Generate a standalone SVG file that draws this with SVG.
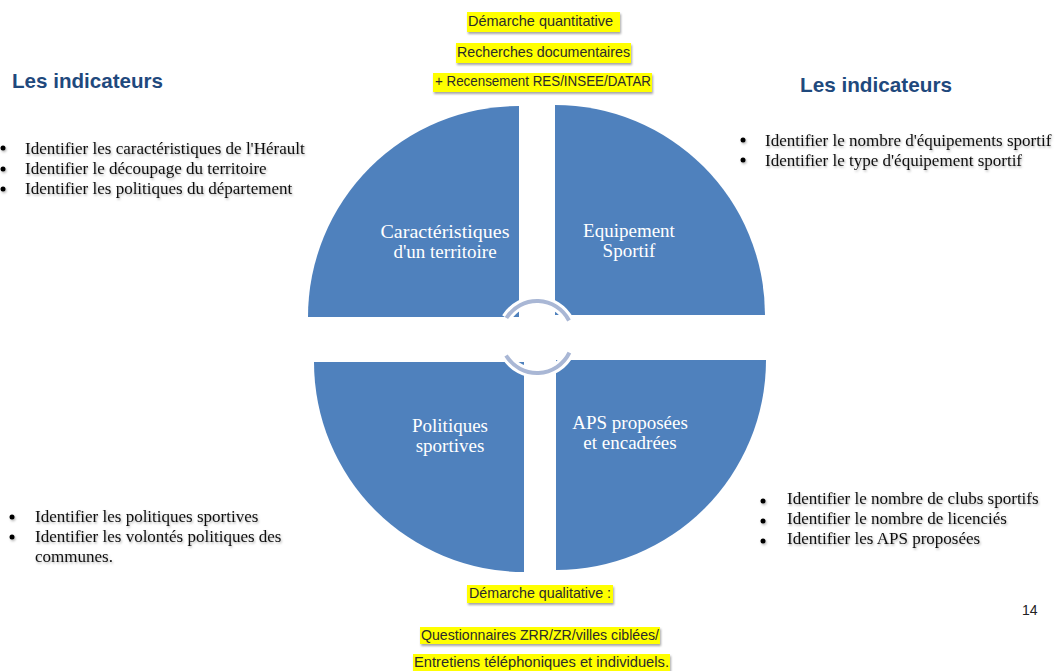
<svg xmlns="http://www.w3.org/2000/svg" width="1059" height="671" viewBox="0 0 1059 671">
<defs>
<filter id="sh" x="-5%" y="-30%" width="110%" height="160%">
<feDropShadow dx="1" dy="1.5" stdDeviation="1" flood-color="#000" flood-opacity="0.3"/>
</filter>
<filter id="bsh" x="-5%" y="-30%" width="110%" height="170%">
<feDropShadow dx="1" dy="2" stdDeviation="1.2" flood-color="#000" flood-opacity="0.35"/>
</filter>
</defs>
<style>
.q{fill:#4f81bd}
.ql{font-family:"Liberation Serif","Times New Roman",serif;font-size:19px;fill:#ffffff;text-anchor:middle}
.b{font-family:"Liberation Serif","Times New Roman",serif;font-size:17px;fill:#111111}
.dot{fill:#000}
.hl{fill:#ffff00}
.ht{font-family:"Liberation Sans",Arial,sans-serif;font-size:14.5px;fill:#2b2b2b}
.title{font-family:"Liberation Sans",Arial,sans-serif;font-size:21px;font-weight:bold;fill:#1f497d}
.ring{fill:none;stroke:#a9b7d5;stroke-width:4}
.halo{fill:none;stroke:#ffffff;stroke-width:10}
</style>
<rect x="0" y="0" width="1059" height="671" fill="#ffffff"/>

<g id="q-territoire">
<path class="q" d="M519,317 L308,317 A211,211 0 0 1 519,106 Z"/>
<text class="ql" x="445" y="238" textLength="129" lengthAdjust="spacingAndGlyphs">Caractéristiques</text>
<text class="ql" x="445" y="258">d'un territoire</text>
</g>
<g id="q-equipement">
<path class="q" d="M555,315 L555,105 A210,210 0 0 1 765,315 Z"/>
<text class="ql" x="629" y="237">Equipement</text>
<text class="ql" x="629" y="257">Sportif</text>
</g>
<g id="q-politiques">
<path class="q" d="M524,362 L524,572 A210,210 0 0 1 314,362 Z"/>
<text class="ql" x="450" y="432">Politiques</text>
<text class="ql" x="450" y="452">sportives</text>
</g>
<g id="q-aps">
<path class="q" d="M556,360 L766,360 A210,210 0 0 1 556,570 Z"/>
<text class="ql" x="630" y="429">APS proposées</text>
<text class="ql" x="630" y="449">et encadrées</text>
</g>

<g id="connectors">
<path class="halo" d="M506.4,318 A36,36 0 0 1 569,320.5"/>
<path class="halo" d="M569.4,352.7 A36,36 0 0 1 506.1,355.5"/>
<path class="ring" d="M506.4,318 A36,36 0 0 1 569,320.5"/>
<path class="ring" d="M569.4,352.7 A36,36 0 0 1 506.1,355.5"/>
</g>

<g id="top-labels">
<rect class="hl" x="467" y="12" width="153" height="20" filter="url(#bsh)"/>
<text class="ht" x="468" y="26" textLength="145" lengthAdjust="spacingAndGlyphs">Démarche quantitative</text>
<rect class="hl" x="456" y="43" width="175" height="20" filter="url(#bsh)"/>
<text class="ht" x="457" y="57" textLength="173" lengthAdjust="spacingAndGlyphs">Recherches documentaires</text>
<rect class="hl" x="433" y="73" width="219" height="19" filter="url(#bsh)"/>
<text class="ht" x="435" y="86" textLength="216" lengthAdjust="spacingAndGlyphs">+ Recensement RES/INSEE/DATAR</text>
</g>

<g id="bottom-labels">
<rect class="hl" x="467" y="585" width="146" height="18" filter="url(#bsh)"/>
<text class="ht" x="469" y="598" textLength="142" lengthAdjust="spacingAndGlyphs">Démarche qualitative :</text>
<rect class="hl" x="420" y="627" width="240" height="17" filter="url(#bsh)"/>
<text class="ht" x="421" y="640" textLength="238" lengthAdjust="spacingAndGlyphs">Questionnaires ZRR/ZR/villes ciblées/</text>
<rect class="hl" x="413" y="654" width="257" height="17" filter="url(#bsh)"/>
<text class="ht" x="414" y="667" textLength="255" lengthAdjust="spacingAndGlyphs">Entretiens téléphoniques et individuels.</text>
</g>

<g id="indicateurs-left">
<text class="title" x="12" y="88" textLength="151" lengthAdjust="spacingAndGlyphs">Les indicateurs</text>
<g filter="url(#sh)">
<circle class="dot" cx="3" cy="148" r="2.5"/>
<circle class="dot" cx="3" cy="169" r="2.5"/>
<circle class="dot" cx="3" cy="189" r="2.5"/>
<text class="b" x="25" y="154">Identifier les caractéristiques de l'Hérault</text>
<text class="b" x="25" y="174">Identifier le découpage du territoire</text>
<text class="b" x="25" y="194">Identifier les politiques du département</text>
</g>
</g>

<g id="indicateurs-right">
<text class="title" x="800" y="92" textLength="152" lengthAdjust="spacingAndGlyphs">Les indicateurs</text>
<g filter="url(#sh)">
<circle class="dot" cx="743" cy="140" r="2.5"/>
<circle class="dot" cx="743" cy="160" r="2.5"/>
<text class="b" x="765" y="146">Identifier le nombre d'équipements sportif</text>
<text class="b" x="765" y="166">Identifier le type d'équipement sportif</text>
</g>
</g>

<g id="indicateurs-bottom-left" filter="url(#sh)">
<circle class="dot" cx="12" cy="517" r="2.5"/>
<circle class="dot" cx="12" cy="537" r="2.5"/>
<text class="b" x="35" y="522">Identifier les politiques sportives</text>
<text class="b" x="35" y="542">Identifier les volontés politiques des</text>
<text class="b" x="35" y="562">communes.</text>
</g>

<g id="indicateurs-bottom-right" filter="url(#sh)">
<circle class="dot" cx="763" cy="501" r="2.5"/>
<circle class="dot" cx="763" cy="521" r="2.5"/>
<circle class="dot" cx="763" cy="541" r="2.5"/>
<text class="b" x="787" y="504">Identifier le nombre de clubs sportifs</text>
<text class="b" x="787" y="524">Identifier le nombre de licenciés</text>
<text class="b" x="787" y="544">Identifier les APS proposées</text>
</g>

<g id="page-number">
<text x="1022" y="615" font-family="'Liberation Sans',Arial,sans-serif" font-size="14" fill="#222">14</text>
</g>
</svg>
